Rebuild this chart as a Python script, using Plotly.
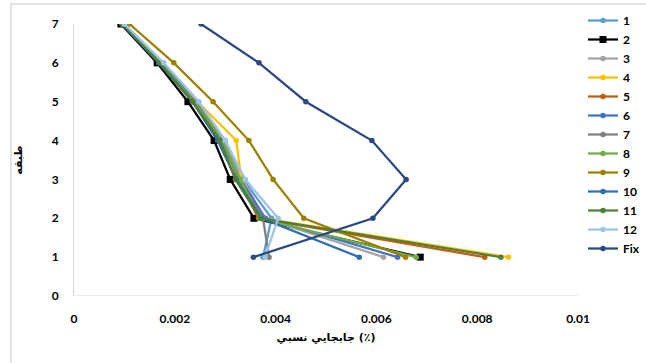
import plotly.graph_objects as go

# Storey levels (طبقه)
storeys = [1, 2, 3, 4, 5, 6, 7]

# Relative drift per storey for each record (values in units of 0.001)
s1 = [3.75, 3.92, 3.36, 3.00, 2.45, 1.76, 0.99]
s2 = [6.87, 3.57, 3.10, 2.78, 2.26, 1.65, 0.93]
s3 = [6.14, 3.78, 3.35, 2.95, 2.42, 1.74, 0.98]
s4 = [8.62, 3.75, 3.32, 3.22, 2.45, 1.75, 0.98]
s5 = [8.15, 3.66, 3.26, 2.95, 2.40, 1.72, 0.97]
s6 = [6.42, 3.80, 3.30, 2.90, 2.40, 1.75, 0.98]
s7 = [3.87, 3.75, 3.28, 2.92, 2.38, 1.70, 0.96]
s8 = [6.79, 3.68, 3.30, 2.95, 2.38, 1.72, 0.97]
s9 = [6.58, 4.56, 3.95, 3.47, 2.76, 1.98, 1.10]
s10 = [5.66, 3.72, 3.22, 2.85, 2.35, 1.68, 0.95]
s11 = [8.47, 3.70, 3.20, 2.90, 2.35, 1.70, 0.96]
s12 = [3.79, 4.05, 3.40, 3.00, 2.48, 1.78, 1.00]
fix = [3.56, 5.93, 6.59, 5.91, 4.60, 3.67, 2.52]

series_names = ["1", "2", "3", "4", "5", "6", "7", "8", "9", "10", "11", "12", "Fix"]
series_values = [s1, s2, s3, s4, s5, s6, s7, s8, s9, s10, s11, s12, fix]
series_colors = ["#5B9BD5", "#000000", "#A5A5A5", "#FFC000", "#C55A11", "#4472C4",
                 "#7F7F7F", "#70AD47", "#9C8000", "#2F6EAA", "#4F7F37", "#9DC3E6", "#2B4A80"]

x_ticks = [0, 0.002, 0.004, 0.006, 0.008, 0.01]
x_tick_labels = ["0", "0.002", "0.004", "0.006", "0.008", "0.01"]
y_ticks = [0, 1, 2, 3, 4, 5, 6, 7]

fig = go.Figure()
for name, vals, col in zip(series_names, series_values, series_colors):
    is_square = name == "2"
    fig.add_trace(go.Scatter(
        x=[v / 1000 for v in vals],
        y=storeys,
        mode="lines+markers",
        name=name,
        line=dict(color=col, width=2.25),
        marker=dict(color=col, size=7 if is_square else 5.5,
                    symbol="square" if is_square else "circle"),
    ))

W, H = 646, 363
L, R, T, B = 74, 68, 24, 67
pw, ph = W - L - R, H - T - B

def px_x(p):
    return (p - L) / pw

def px_y(p):
    return (H - B - p) / ph

fig.update_layout(
    width=W, height=H,
    margin=dict(l=L, r=R, t=T, b=B, pad=0, autoexpand=False),
    paper_bgcolor="white", plot_bgcolor="white",
    font=dict(family="Lato, Liberation Sans, sans-serif", size=12, color="#000000", weight="bold"),
    showlegend=True,
    legend=dict(
        x=px_x(583), y=px_y(6), xanchor="left", yanchor="top",
        font=dict(size=12, color="#000000", weight="bold"),
        bgcolor="rgba(0,0,0,0)", tracegroupgap=0, maxheight=400,
    ),
    xaxis=dict(
        range=[0, 0.01], tickvals=x_ticks, ticktext=x_tick_labels,
        showgrid=False, zeroline=False, showline=False, ticks="",
        ticklabelstandoff=14,
        title=dict(text="جابجايي نسبي (٪)", standoff=8,
                   font=dict(family="DejaVu Sans, Noto Sans, sans-serif", size=11, weight="bold")),
    ),
    yaxis=dict(
        range=[0, 7], tickvals=y_ticks,
        showgrid=False, zeroline=False, showline=True, linecolor="#D9D9D9", linewidth=1,
        ticks="", ticklabelstandoff=12,
        title=dict(text="طبقه", standoff=26,
                   font=dict(family="DejaVu Sans, Noto Sans, sans-serif", size=11, weight="bold")),
    ),
    shapes=[
        # baseline along the x axis
        dict(type="line", xref="paper", yref="y", x0=0, x1=1, y0=0, y1=0,
             line=dict(color="#D9D9D9", width=1), layer="below"),
        # chart-area border
        dict(type="rect", xref="paper", yref="paper",
             x0=px_x(11), x1=px_x(700), y0=px_y(420), y1=px_y(4),
             line=dict(color="#D9D9D9", width=1.5), fillcolor="rgba(0,0,0,0)", layer="below"),
    ],
)

fig.write_html("out.html")
